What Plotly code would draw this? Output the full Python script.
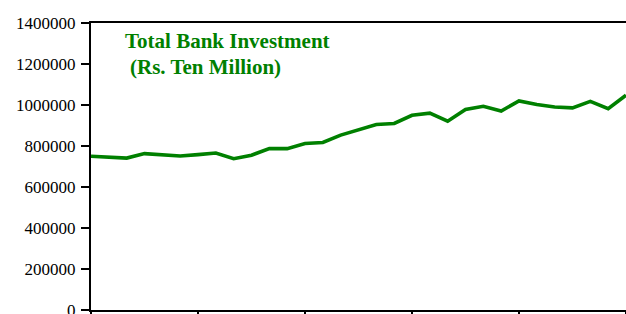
import plotly.graph_objects as go

# Data
periods = list(range(31))
investment = [750000, 746000, 741000, 763000, 758000, 751000, 758000, 766000,
              738000, 755000, 788000, 787000, 812000, 817000, 853000, 880000,
              905000, 910000, 950000, 960000, 921000, 978000, 994000, 971000,
              1020000, 1002000, 990000, 986000, 1018000, 982000, 1048000]
y_ticks = [0, 200000, 400000, 600000, 800000, 1000000, 1200000, 1400000]
y_tick_labels = [str(v) for v in y_ticks]
x_ticks = [0, 6, 12, 18, 24, 30]
title_lines = ["Total Bank Investment", "(Rs. Ten Million)"]

SERIF = "Liberation Serif"

fig = go.Figure()
fig.add_trace(go.Scatter(
    x=periods, y=investment, mode="lines",
    line=dict(color="#008000", width=3.6),
    showlegend=False, hoverinfo="skip",
))

fig.update_layout(
    width=626, height=314,
    margin=dict(l=91, r=0, t=23, b=4, autoexpand=False),
    paper_bgcolor="white", plot_bgcolor="white",
    font=dict(family=SERIF, size=17, color="black"),
    xaxis=dict(
        range=[0, 30], tickvals=x_ticks, showticklabels=False,
        showline=True, linecolor="black", linewidth=2, mirror=True,
        ticks="outside", ticklen=7, tickwidth=2, tickcolor="black",
        showgrid=False, zeroline=False, fixedrange=True,
    ),
    yaxis=dict(
        range=[0, 1400000], tickvals=y_ticks, ticktext=y_tick_labels,
        tickfont=dict(family=SERIF, size=17, color="black"),
        ticklabeloverflow="allow",
        showline=True, linecolor="black", linewidth=2,
        ticks="outside", ticklen=8, tickwidth=2, tickcolor="black",
        ticklabelstandoff=2,
        showgrid=False, zeroline=False, fixedrange=True,
    ),
    annotations=[
        dict(
            xref="paper", yref="paper", x=0.06, y=0.985,
            xanchor="left", yanchor="top", align="left", showarrow=False,
            text="<b>" + title_lines[0] + "</b>",
            font=dict(family=SERIF, size=21, color="#008000"),
        ),
        dict(
            xref="paper", yref="paper", x=0.0693, y=0.896,
            xanchor="left", yanchor="top", align="left", showarrow=False,
            text="<b>" + title_lines[1] + "</b>",
            font=dict(family=SERIF, size=21, color="#008000"),
        ),
    ],
)

fig.write_html(
    "out.html",
    config={"displayModeBar": False},
    post_script="document.body.style.margin='0';document.body.style.overflow='hidden';",
)
